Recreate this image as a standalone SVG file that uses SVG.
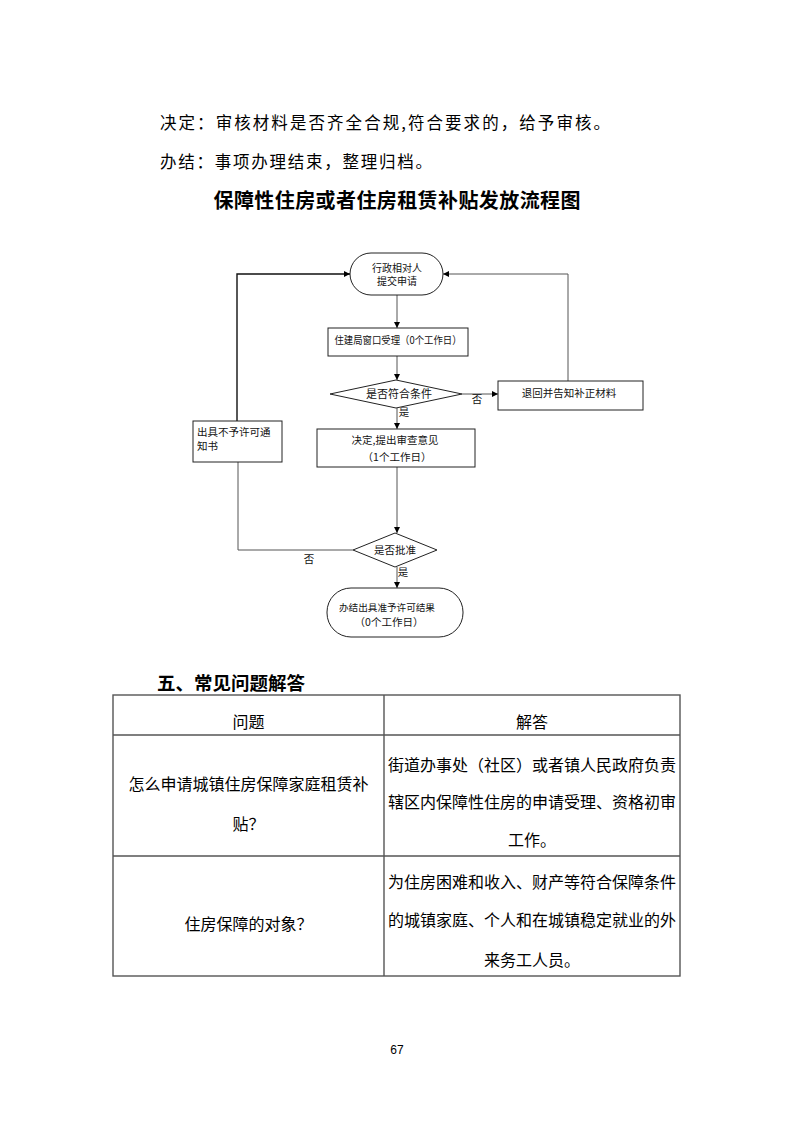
<svg xmlns="http://www.w3.org/2000/svg" width="793" height="1122" viewBox="0 0 793 1122">
<style>
text{font-family:"Noto Sans CJK SC","Liberation Sans",sans-serif;fill:#000}
.body{font-size:16.5px}
.title{font-size:20px;font-weight:bold}
.h2{font-size:18.5px;font-weight:bold}
.fc{font-size:10.5px;fill:#111}
.tb{font-size:16px}
.node{fill:#fff;stroke:#222;stroke-width:1}
.conn{fill:none;stroke:#555;stroke-width:1}
.loop{fill:none;stroke:#111;stroke-width:1.4}
.grid{fill:none;stroke:#555;stroke-width:1.4}
</style>
<defs>
<marker id="arr" viewBox="0 0 8 8" refX="8" refY="4" markerWidth="6" markerHeight="6" markerUnits="userSpaceOnUse" orient="auto">
<path d="M0,0 L8,4 L0,8 z" fill="#000"/>
</marker>
</defs>
<rect width="793" height="1122" fill="#fff"/>

<text class="body" x="160" y="129" textLength="450" lengthAdjust="spacing">决定：审核材料是否齐全合规,符合要求的，给予审核。</text>
<text class="body" x="160" y="168" textLength="272" lengthAdjust="spacing">办结：事项办理结束，整理归档。</text>
<text class="title" x="397" y="207.5" text-anchor="middle" textLength="367" lengthAdjust="spacing">保障性住房或者住房租赁补贴发放流程图</text>

<g id="connectors">
<path class="conn" d="M397,295 V328" marker-end="url(#arr)"/>
<path class="conn" d="M397,356 V380" marker-end="url(#arr)"/>
<path class="conn" d="M397,408 V429" marker-end="url(#arr)"/>
<path class="conn" d="M462,394 H498" marker-end="url(#arr)"/>
<path class="conn" d="M568,381 V274 H443" marker-end="url(#arr)"/>
<path class="loop" d="M237,421 V274 H350" marker-end="url(#arr)"/>
<path class="conn" d="M397,467 V533" marker-end="url(#arr)"/>
<path class="conn" d="M353,550 H238 V462"/>
<path class="conn" d="M397,567 V588" marker-end="url(#arr)"/>
<text class="fc" x="477" y="403" text-anchor="middle">否</text>
<text class="fc" x="404" y="416" text-anchor="middle">是</text>
<text class="fc" x="309" y="563" text-anchor="middle">否</text>
<text class="fc" x="403" y="576" text-anchor="middle">是</text>
</g>

<g id="start">
<rect class="node" x="350" y="253" width="93" height="42" rx="21" ry="21"/>
<text class="fc" text-anchor="middle" style="font-size:10px"><tspan x="397" y="271.5">行政相对人</tspan><tspan x="397" y="285">提交申请</tspan></text>
</g>
<g id="accept">
<rect class="node" x="328" y="328" width="140" height="28"/>
<text class="fc" x="398" y="344" text-anchor="middle" textLength="127" lengthAdjust="spacingAndGlyphs">住建局窗口受理（0个工作日）</text>
</g>
<g id="check">
<polygon class="node" points="330,394 396,380 462,394 396,408"/>
<text class="fc" x="399" y="398" text-anchor="middle" style="font-size:11px">是否符合条件</text>
</g>
<g id="return">
<rect class="node" x="498" y="381" width="145" height="29"/>
<text class="fc" x="569" y="397" text-anchor="middle">退回并告知补正材料</text>
</g>
<g id="decide">
<rect class="node" x="317" y="429" width="158" height="38"/>
<text class="fc" text-anchor="middle"><tspan x="395" y="444">决定,提出审查意见</tspan><tspan x="397" y="461">（1个工作日）</tspan></text>
</g>
<g id="deny">
<rect class="node" x="193" y="421" width="89" height="41"/>
<text class="fc" style="font-size:10.5px"><tspan x="197" y="436">出具不予许可通</tspan><tspan x="197" y="450">知书</tspan></text>
</g>
<g id="approve">
<polygon class="node" points="353,550 395,533 437,550 395,567"/>
<text class="fc" x="395" y="554" text-anchor="middle">是否批准</text>
</g>
<g id="end">
<rect class="node" x="327" y="588" width="136" height="49" rx="24" ry="24"/>
<text class="fc" text-anchor="middle"><tspan x="387" y="611" style="font-size:9.6px">办结出具准予许可结果</tspan><tspan x="389" y="626">（0个工作日）</tspan></text>
</g>

<text class="h2" x="157" y="690" textLength="148" lengthAdjust="spacing">五、常见问题解答</text>

<g id="table">
<rect class="grid" x="113" y="695" width="567" height="281"/>
<line class="grid" x1="384" y1="695" x2="384" y2="976"/>
<line class="grid" x1="113" y1="735" x2="680" y2="735"/>
<line class="grid" x1="113" y1="856" x2="680" y2="856"/>
<text class="tb" x="248.5" y="728" text-anchor="middle">问题</text>
<text class="tb" x="532" y="728" text-anchor="middle">解答</text>
<text class="tb" text-anchor="middle"><tspan x="248.5" y="790">怎么申请城镇住房保障家庭租赁补</tspan><tspan x="248.5" y="830">贴？</tspan></text>
<text class="tb" text-anchor="middle"><tspan x="532" y="771">街道办事处（社区）或者镇人民政府负责</tspan><tspan x="532" y="808">辖区内保障性住房的申请受理、资格初审</tspan><tspan x="532" y="846">工作。</tspan></text>
<text class="tb" x="248.5" y="930" text-anchor="middle">住房保障的对象？</text>
<text class="tb" text-anchor="middle"><tspan x="532" y="888">为住房困难和收入、财产等符合保障条件</tspan><tspan x="532" y="926">的城镇家庭、个人和在城镇稳定就业的外</tspan><tspan x="532" y="966">来务工人员。</tspan></text>
</g>

<text x="397" y="1054" text-anchor="middle" style="font-size:12px;font-family:'Liberation Sans',sans-serif">67</text>
</svg>
